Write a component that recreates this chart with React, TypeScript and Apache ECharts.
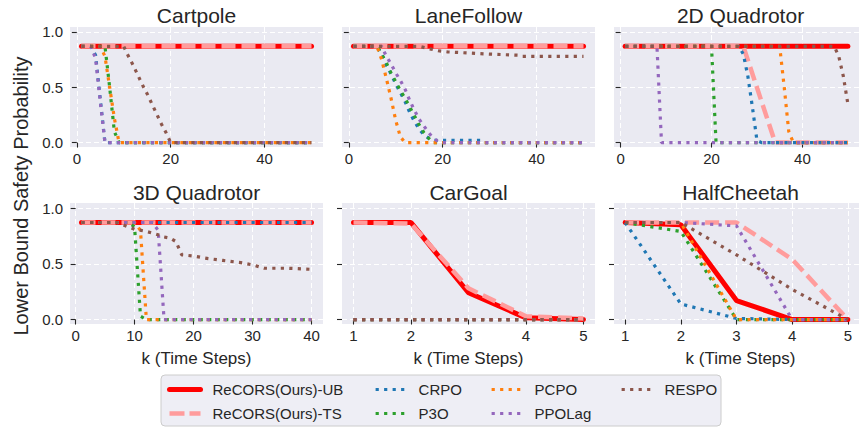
import React, { useEffect, useRef } from "react";
import * as echarts from "echarts";

const FONT = '"Liberation Sans", Arial, Helvetica, sans-serif';
const TXT = "#262626";

const methods = ["ReCORS(Ours)-UB", "ReCORS(Ours)-TS", "CRPO", "P3O", "PCPO", "PPOLag", "RESPO"];
const panelTitles = ["Cartpole", "LaneFollow", "2D Quadrotor", "3D Quadrotor", "CarGoal", "HalfCheetah"];
const xTicks50 = [0, 20, 40];
const xTicks40 = [0, 10, 20, 30, 40];
const xTicks5 = [1, 2, 3, 4, 5];
const yTicks = [0, 0.5, 1.0];

// Cartpole (k = 1..50)
const cartpoleUB = [[1, 0.87], [50, 0.87]];
const cartpoleTS = [[1, 0.87], [50, 0.87]];
const cartpoleCRPO = [[1, 0.87], [3, 0.87], [4, 0.79], [5, 0.39], [6, 0], [50, 0]];
const cartpoleP3O = [[1, 0.87], [6, 0.87], [7, 0.5], [8, 0.1], [9, 0], [50, 0]];
const cartpolePCPO = [[1, 0.87], [5, 0.87], [6, 0.78], [7, 0.5], [8, 0.22], [9, 0], [50, 0]];
const cartpolePPOLag = [[1, 0.87], [3, 0.87], [4, 0.76], [5, 0.37], [6, 0], [50, 0]];
const cartpoleRESPO = [[1, 0.87], [10, 0.87], [11, 0.78], [12, 0.7], [13, 0.61], [14, 0.52], [15, 0.44], [16, 0.35], [17, 0.26], [18, 0.17], [19, 0.09], [20, 0], [50, 0]];

// LaneFollow (k = 1..50)
const laneUB = [[1, 0.87], [50, 0.87]];
const laneTS = [[1, 0.87], [50, 0.87]];
const laneCRPO = [[1, 0.87], [6, 0.87], [7, 0.8], [8, 0.7], [9, 0.62], [10, 0.53], [11, 0.45], [12, 0.37], [13, 0.27], [14, 0.19], [15, 0.12], [16, 0.07], [17, 0.04], [18, 0.02], [28, 0.02], [29, 0], [50, 0]];
const laneP3O = [[1, 0.87], [6, 0.87], [7, 0.8], [8, 0.72], [9, 0.63], [10, 0.55], [11, 0.47], [12, 0.4], [13, 0.32], [14, 0.24], [15, 0.16], [16, 0.09], [17, 0.04], [18, 0], [50, 0]];
const lanePCPO = [[1, 0.87], [6, 0.87], [7, 0.75], [8, 0.58], [9, 0.4], [10, 0.2], [11, 0.05], [12, 0], [50, 0]];
const lanePPOLag = [[1, 0.87], [7, 0.87], [8, 0.78], [9, 0.71], [10, 0.63], [11, 0.56], [12, 0.48], [13, 0.38], [14, 0.29], [15, 0.21], [16, 0.15], [17, 0.09], [18, 0.04], [19, 0.01], [20, 0], [50, 0]];
const laneRESPO = [[1, 0.87], [15, 0.87], [17, 0.85], [19, 0.83], [21, 0.82], [30, 0.8], [36, 0.79], [37, 0.78], [50, 0.78]];

// 2D Quadrotor (k = 1..50)
const quad2UB = [[1, 0.87], [50, 0.87]];
const quad2TS = [[1, 0.87], [27, 0.87], [34, 0], [50, 0]];
const quad2CRPO = [[1, 0.87], [26, 0.87], [27, 0.8], [28, 0.6], [29, 0.32], [30, 0.02], [31, 0], [50, 0]];
const quad2P3O = [[1, 0.87], [20, 0.87], [21, 0], [50, 0]];
const quad2PCPO = [[1, 0.87], [35, 0.87], [36, 0.5], [37, 0.1], [38, 0], [50, 0]];
const quad2PPOLag = [[1, 0.87], [8, 0.87], [9, 0], [50, 0]];
const quad2RESPO = [[1, 0.87], [47, 0.87], [48, 0.78], [49, 0.6], [50, 0.35]];

// 3D Quadrotor (k = 1..40)
const quad3UB = [[1, 0.87], [40, 0.87]];
const quad3TS = [[1, 0.87], [40, 0.87]];
const quad3CRPO = [[1, 0.87], [40, 0.87]];
const quad3P3O = [[1, 0.87], [9, 0.87], [10, 0.83], [11, 0.03], [12, 0], [40, 0]];
const quad3PCPO = [[1, 0.87], [10, 0.87], [11, 0.8], [12, 0], [40, 0]];
const quad3PPOLag = [[1, 0.87], [13, 0.87], [14, 0.8], [15, 0], [40, 0]];
const quad3RESPO = [[1, 0.87], [7, 0.87], [8, 0.85], [9, 0.83], [10, 0.81], [12, 0.79], [14, 0.76], [15, 0.74], [16, 0.73], [17, 0.7], [18, 0.58], [20, 0.57], [22, 0.55], [25, 0.53], [28, 0.51], [30, 0.49], [32, 0.46], [36, 0.46], [40, 0.45]];

// CarGoal (k = 1..5)
const carUB = [[1, 0.87], [2, 0.87], [3, 0.24], [4, 0.015], [5, 0]];
const carTS = [[1, 0.87], [2, 0.86], [3, 0.28], [4, 0.03], [5, 0.01]];
const carCRPO = [[1, 0], [2, 0], [3, 0], [4, 0], [5, 0]];
const carP3O = [[1, 0], [2, 0], [3, 0], [4, 0], [5, 0]];
const carPCPO = [[1, 0], [2, 0], [3, 0], [4, 0], [5, 0]];
const carPPOLag = [[1, 0], [2, 0], [3, 0], [4, 0], [5, 0]];
const carRESPO = [[1, 0], [2, 0], [3, 0], [4, 0], [5, 0]];

// HalfCheetah (k = 1..5)
const cheetahUB = [[1, 0.87], [2, 0.85], [3, 0.17], [4, 0], [5, 0]];
const cheetahTS = [[1, 0.87], [2, 0.87], [3, 0.87], [4, 0.54], [5, 0]];
const cheetahCRPO = [[1, 0.87], [2, 0.14], [3, 0.01], [4, 0], [5, 0]];
const cheetahP3O = [[1, 0.87], [2, 0.79], [3, 0], [4, 0], [5, 0]];
const cheetahPCPO = [[1, 0.87], [2, 0.87], [3, 0], [4, 0], [5, 0]];
const cheetahPPOLag = [[1, 0.87], [2, 0.87], [3, 0.84], [4, 0], [5, 0]];
const cheetahRESPO = [[1, 0.87], [2, 0.87], [3, 0.58], [4, 0.27], [5, 0]];

const panelData = [
  [cartpoleUB, cartpoleTS, cartpoleCRPO, cartpoleP3O, cartpolePCPO, cartpolePPOLag, cartpoleRESPO],
  [laneUB, laneTS, laneCRPO, laneP3O, lanePCPO, lanePPOLag, laneRESPO],
  [quad2UB, quad2TS, quad2CRPO, quad2P3O, quad2PCPO, quad2PPOLag, quad2RESPO],
  [quad3UB, quad3TS, quad3CRPO, quad3P3O, quad3PCPO, quad3PPOLag, quad3RESPO],
  [carUB, carTS, carCRPO, carP3O, carPCPO, carPPOLag, carRESPO],
  [cheetahUB, cheetahTS, cheetahCRPO, cheetahP3O, cheetahPCPO, cheetahPPOLag, cheetahRESPO],
];
const panelXTicks = [xTicks50, xTicks50, xTicks50, xTicks40, xTicks5, xTicks5];
const panelXRange = [[-1.45, 52.45], [-1.45, 52.45], [-1.45, 52.45], [-0.95, 41.95], [0.8, 5.2], [0.8, 5.2]];

const colors = ["#ff0000", "#ff9c9c", "#1f77b4", "#2ca02c", "#ff7f0e", "#9467bd", "#8c564b"];

function lineStyleFor(i: number) {
  if (i === 0) return { color: colors[0], width: 5, type: "solid", cap: "round" };
  if (i === 1) return { color: colors[1], width: 4.5, type: [14, 6], cap: "butt" };
  return { color: colors[i], width: 3.2, type: [3.2, 5.3], cap: "butt" };
}

const colLefts = [70, 342, 614];
const rowTops = [27, 203];
const gridW = 253;
const gridH = [120, 121];

export default function App() {
  const ref = useRef<HTMLDivElement>(null);
  useEffect(() => {
    if (!ref.current) return;
    const chart = echarts.init(ref.current, null, { renderer: "svg" });
    const grids: any[] = [];
    const xAxes: any[] = [];
    const yAxes: any[] = [];
    const series: any[] = [];
    const graphics: any[] = [];
    for (let p = 0; p < 6; p++) {
      const r = Math.floor(p / 3);
      const c = p % 3;
      grids.push({ left: colLefts[c], top: rowTops[r], width: gridW, height: gridH[r], backgroundColor: "#EAEAF2", show: true, borderWidth: 0 });
      const ticks = panelXTicks[p];
      xAxes.push({
        type: "value", gridIndex: p, min: panelXRange[p][0], max: panelXRange[p][1],
        axisLine: { show: false },
        axisTick: { show: true, length: 5, customValues: ticks, lineStyle: { color: TXT, width: 1.1 } },
        axisLabel: { show: true, customValues: ticks, margin: 4, color: TXT, fontSize: 15, fontFamily: FONT, formatter: (v: number) => String(v) },
        splitLine: { show: true, lineStyle: { color: "#ffffff", width: 1, type: [5, 3] } },
      });
      yAxes.push({
        type: "value", gridIndex: p, min: -0.04, max: 1.045,
        axisLine: { show: false },
        axisTick: { show: true, length: 5, customValues: yTicks, lineStyle: { color: TXT, width: 1.1 } },
        axisLabel: { show: c === 0, customValues: yTicks, margin: 7, color: TXT, fontSize: 15, fontFamily: FONT, formatter: (v: number) => v.toFixed(1) },
        splitLine: { show: true, lineStyle: { color: "#ffffff", width: 1, type: [5, 3] } },
      });
      for (let m = 0; m < methods.length; m++) {
        series.push({
          type: "line", name: methods[m], xAxisIndex: p, yAxisIndex: p,
          data: panelData[p][m], symbol: "none", showSymbol: false, silent: true,
          color: colors[m], lineStyle: lineStyleFor(m), itemStyle: { color: colors[m] },
          emphasis: { disabled: true }, z: 2,
        });
      }
      const cx = colLefts[c] + gridW / 2;
      graphics.push({
        type: "text", x: cx, y: r === 0 ? 15.5 : 192, silent: true,
        style: { text: panelTitles[p], fontSize: 21, fontWeight: "normal", fontFamily: FONT, fill: TXT, align: "center", verticalAlign: "middle" },
      });
      if (r === 1) {
        graphics.push({
          type: "text", x: cx, y: 358, silent: true,
          style: { text: "k (Time Steps)", fontSize: 17, fontWeight: "normal", fontFamily: FONT, fill: TXT, align: "center", verticalAlign: "middle" },
        });
      }
    }
    graphics.push({
      type: "text", x: 21, y: 196, rotation: Math.PI / 2, silent: true,
      style: { text: "Lower Bound Safety Probability", fontSize: 20, fontWeight: "normal", fontFamily: FONT, fill: TXT, align: "center", verticalAlign: "middle" },
    });
    graphics.push({
      type: "rect", z: 0, silent: true,
      shape: { x: 161, y: 375, width: 560, height: 51, r: 4 },
      style: { fill: "#EEEEF5", stroke: "#cccccc", lineWidth: 1 },
    });
    const legendItem = (m: number) => {
      const ls: any = lineStyleFor(m);
      const lineStyle: any = { color: ls.color, width: ls.width, type: m === 1 ? [15, 5] : ls.type, cap: ls.cap };
      return { name: methods[m], lineStyle, itemStyle: { opacity: 0 } };
    };
    const legendBase = {
      orient: "vertical", top: 382, itemWidth: 31, itemHeight: 14, itemGap: 9, padding: 0,
      itemStyle: { opacity: 0 },
      textStyle: { fontSize: 15, fontFamily: FONT, color: TXT, padding: [0, 0, 0, 7], lineHeight: 14 },
      selectedMode: false, z: 10,
    };
    const legends = [
      { ...legendBase, left: 167, data: [legendItem(0), legendItem(1)] },
      { ...legendBase, left: 374, data: [legendItem(2), legendItem(3)] },
      { ...legendBase, left: 490, data: [legendItem(4), legendItem(5)] },
      { ...legendBase, left: 620, data: [legendItem(6)] },
    ];
    chart.setOption({
      animation: false,
      backgroundColor: "#ffffff",
      grid: grids,
      xAxis: xAxes,
      yAxis: yAxes,
      series,
      legend: legends,
      graphic: { elements: graphics },
    });
    return () => chart.dispose();
  }, []);
  return <div ref={ref} style={{ position: "fixed", left: 0, top: 0, width: 859, height: 428 }} />;
}
